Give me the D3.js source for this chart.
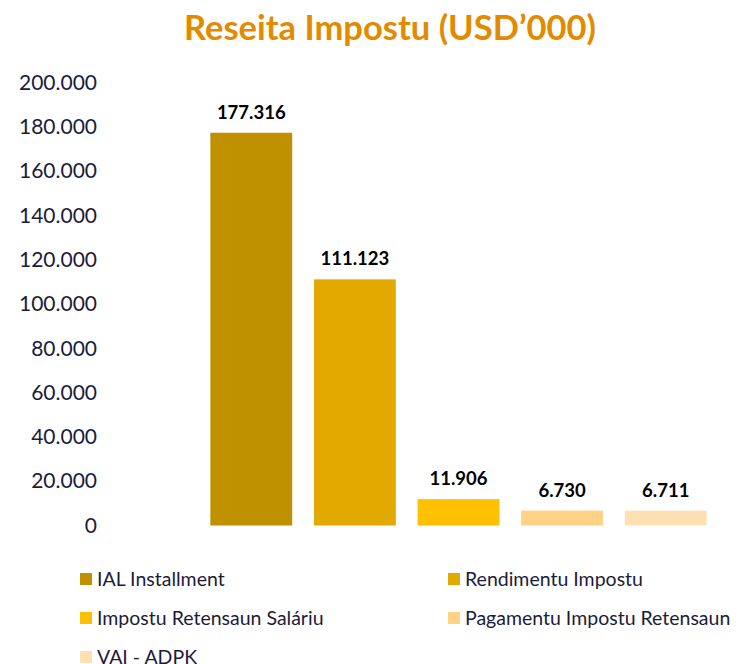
<!DOCTYPE html>
<html lang="tet">
<head>
    <meta charset="UTF-8">
    <title>Reseita Impostu</title>
    <script src="https://cdnjs.cloudflare.com/ajax/libs/d3/7.8.5/d3.min.js"></script>
    <style>
        body { margin: 0; background: #fff; }
        text { font-family: Lato, "Open Sans", sans-serif; }
    </style>
</head>
<body>
<svg id="chart" width="738" height="664"></svg>
<script>
    // data
    var categories = ["IAL Installment", "Rendimentu Impostu", "Impostu Retensaun Saláriu",
                      "Pagamentu Impostu Retensaun", "VAI - ADPK"];
    var values = [177316, 111123, 11906, 6730, 6711];
    var valueLabels = ["177.316", "111.123", "11.906", "6.730", "6.711"];
    var colors = ["#BF9000", "#E2AA00", "#FFC000", "#FFD285", "#FFE0B2"];
    var yTicks = [0, 20000, 40000, 60000, 80000, 100000, 120000, 140000, 160000, 180000, 200000];

    var svg = d3.select("#chart"),
        width = +svg.attr("width"),
        height = +svg.attr("height");

    // thousands with a dot, the way the sheet shows them
    var fmt = function(v) { return v === 0 ? "0" : d3.format(",")(v).replace(/,/g, "."); };

    var x = d3.scaleBand()
        .domain(categories)
        .range([200, 717])
        .paddingInner(0.21)
        .paddingOuter(0.1);

    var y = d3.scaleLinear()
        .domain([0, 200000])
        .range([525.5, 82.5]);

    // title
    svg.append("text")
        .attr("x", 390)
        .attr("y", 40)
        .attr("text-anchor", "middle")
        .style("font-size", "34.5px")
        .style("font-weight", "bold")
        .style("fill", "#E28A00")
        .text("Reseita Impostu (USD\u2019000)");

    // y axis, labels only
    var yAxis = svg.append("g")
        .attr("transform", "translate(97,0)")
        .call(d3.axisLeft(y).tickValues(yTicks).tickFormat(fmt).tickSize(0).tickPadding(0));
    yAxis.select(".domain").remove();
    yAxis.selectAll("text")
        .style("font-size", "21px")
        .style("font-family", "Lato, sans-serif")
        .style("fill", "#1c1c3a");

    // bars
    svg.append("g")
        .selectAll("rect")
        .data(values)
        .enter()
        .append("rect")
        .attr("x", function(d, i) { return x(categories[i]); })
        .attr("y", function(d) { return y(d); })
        .attr("width", x.bandwidth())
        .attr("height", function(d) { return y(0) - y(d); })
        .attr("fill", function(d, i) { return colors[i]; });

    // value labels
    svg.append("g")
        .selectAll("text")
        .data(values)
        .enter()
        .append("text")
        .attr("x", function(d, i) { return x(categories[i]) + x.bandwidth() / 2; })
        .attr("y", function(d) { return y(d) - 14; })
        .attr("text-anchor", "middle")
        .style("font-size", "18.5px")
        .style("font-weight", "bold")
        .style("fill", "#000")
        .text(function(d, i) { return valueLabels[i]; });

    // legend, two columns
    var legend = svg.append("g")
        .selectAll("g")
        .data(categories)
        .enter()
        .append("g")
        .attr("transform", function(d, i) {
            var col = i % 2, row = Math.floor(i / 2);
            return "translate(" + (col === 0 ? 80 : 448) + "," + (573 + row * 39) + ")";
        });
    legend.append("rect")
        .attr("width", 12)
        .attr("height", 12)
        .attr("fill", function(d, i) { return colors[i]; });
    legend.append("text")
        .attr("x", 17)
        .attr("y", 6)
        .attr("dy", "0.35em")
        .style("font-size", "19.5px")
        .style("fill", "#1c1c3a")
        .text(function(d) { return d; });
</script>
</body>
</html>
